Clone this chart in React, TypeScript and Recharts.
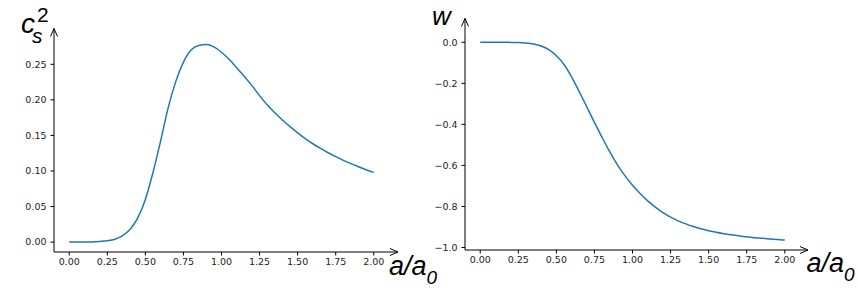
import { Line, LineChart, ReferenceLine, XAxis, YAxis } from "recharts";

// scale factor a/a0, sampled every 0.05
const aValues = [
  0, 0.05, 0.1, 0.15, 0.2, 0.25, 0.3, 0.35, 0.4, 0.45, 0.5, 0.55, 0.6, 0.65,
  0.7, 0.75, 0.8, 0.85, 0.9, 0.95, 1.0, 1.05, 1.1, 1.15, 1.2, 1.25, 1.3, 1.35,
  1.4, 1.45, 1.5, 1.55, 1.6, 1.65, 1.7, 1.75, 1.8, 1.85, 1.9, 1.95, 2.0,
];

// sound speed squared
const cs2Values = [
  0, 0, 0, 0.0003, 0.001, 0.002, 0.004, 0.009, 0.018, 0.034, 0.06, 0.098,
  0.142, 0.189, 0.226, 0.253, 0.27, 0.2765, 0.2778, 0.2745, 0.267, 0.257,
  0.245, 0.233, 0.22, 0.206, 0.193, 0.1819, 0.1717, 0.1623, 0.1536, 0.1456,
  0.1383, 0.1317, 0.1256, 0.1201, 0.115, 0.1103, 0.1059, 0.1018, 0.098,
];

// equation of state w
const wValues = [
  0, 0, 0, 0, -0.0005, -0.001, -0.003, -0.008, -0.018, -0.036, -0.066, -0.108,
  -0.168, -0.24, -0.315, -0.39, -0.463, -0.533, -0.596, -0.65, -0.697, -0.737,
  -0.773, -0.803, -0.83, -0.852, -0.87, -0.885, -0.898, -0.909, -0.918, -0.926,
  -0.933, -0.938, -0.943, -0.948, -0.952, -0.955, -0.958, -0.961, -0.964,
];

const aTicks = [0, 0.25, 0.5, 0.75, 1.0, 1.25, 1.5, 1.75, 2.0];
const cs2Ticks = [0, 0.05, 0.1, 0.15, 0.2, 0.25];
const wTicks = [-1.0, -0.8, -0.6, -0.4, -0.2, 0.0];

const cs2Data = aValues.map((a, i) => ({ a, v: cs2Values[i] }));
const wData = aValues.map((a, i) => ({ a, v: wValues[i] }));

const tickStyle = { fontFamily: "DejaVu Sans", fontSize: 9.5, fill: "#222" };
const bigFont = "Liberation Sans, Arial, sans-serif";
const minus = (s: string) => s.replace("-", "\u2212");

function arrowRight(ext: number) {
  return (p: any) => {
    const x = Math.max(p.x1, p.x2);
    const y = p.y1;
    const tip = x + ext;
    return (
      <path
        d={`M${x},${y}L${tip},${y}M${tip - 8},${y - 3.5}L${tip},${y}L${tip - 8},${y + 3.5}`}
        stroke="#000"
        strokeWidth={1}
        fill="none"
      />
    );
  };
}

function arrowUp(ext: number) {
  return (p: any) => {
    const x = p.x1;
    const y = Math.min(p.y1, p.y2);
    const tip = y - ext;
    return (
      <path
        d={`M${x},${y}L${x},${tip}M${x - 3.5},${tip + 8}L${x},${tip}L${x + 3.5},${tip + 8}`}
        stroke="#000"
        strokeWidth={1}
        fill="none"
      />
    );
  };
}

// a/a0 label sitting just right of the x axis end
function xLabel(dx: number, dy: number) {
  return (props: any) => {
    const vb = props.viewBox;
    const x = vb.x + vb.width + dx;
    const y = vb.y + dy;
    return (
      <text x={x} y={y} fontFamily={bigFont} fontStyle="italic" fontSize={27} fill="#000">
        a/a
        <tspan fontSize={19} dy={9}>0</tspan>
      </text>
    );
  };
}

function Cs2Label(props: any) {
  const vb = props.viewBox;
  const ax = vb.x + vb.width;
  const top = vb.y;
  return (
    <g fontFamily={bigFont} fontStyle="italic" fill="#000">
      <text x={ax - 33} y={top - 1.5} fontSize={28}>c</text>
      <text x={ax - 22} y={top + 8} fontSize={21}>s</text>
      <text x={ax - 17} y={top - 13} fontSize={21} fontStyle="normal">2</text>
    </g>
  );
}

function WLabel(props: any) {
  const vb = props.viewBox;
  const ax = vb.x + vb.width;
  return (
    <text x={ax - 33} y={vb.y - 7.5} fontFamily={bigFont} fontStyle="italic" fontSize={26} fill="#000">
      w
    </text>
  );
}

export default function App() {
  return (
    <div style={{ position: "absolute", left: 0, top: 0, width: 858, height: 288, background: "#fff" }}>
      <div style={{ position: "absolute", left: 0, top: 0 }}>
        <LineChart width={460} height={288} data={cs2Data} margin={{ top: 34.5, right: 71, bottom: 0, left: 0 }}>
          <XAxis
            dataKey="a"
            type="number"
            domain={[-0.1, 2.1]}
            ticks={aTicks}
            interval={0}
            tickFormatter={(v: number) => v.toFixed(2)}
            tick={tickStyle}
            tickSize={3.5}
            tickMargin={3}
            stroke="#000"
            height={36}
            label={xLabel(0, 23)}
          />
          <YAxis
            type="number"
            domain={[-0.0139, 0.2919]}
            ticks={cs2Ticks}
            interval={0}
            tickFormatter={(v: number) => v.toFixed(2)}
            tick={tickStyle}
            tickSize={3.5}
            tickMargin={4}
            stroke="#000"
            width={54}
            label={Cs2Label}
          />
          <ReferenceLine y={-0.0139} ifOverflow="visible" shape={arrowRight(9)} />
          <ReferenceLine x={-0.1} ifOverflow="visible" shape={arrowUp(6)} />
          <Line
            type="monotone"
            dataKey="v"
            stroke="#1f77b4"
            strokeWidth={1.5}
            dot={false}
            isAnimationActive={false}
          />
        </LineChart>
      </div>
      <div style={{ position: "absolute", left: 430, top: 0 }}>
        <LineChart width={428} height={288} data={wData} margin={{ top: 32.4, right: 58, bottom: 0, left: 0 }}>
          <XAxis
            dataKey="a"
            type="number"
            domain={[-0.1, 2.1]}
            ticks={aTicks}
            interval={0}
            tickFormatter={(v: number) => v.toFixed(2)}
            tick={tickStyle}
            tickSize={3.5}
            tickMargin={3}
            stroke="#000"
            height={38}
            label={xLabel(6.5, 22)}
          />
          <YAxis
            type="number"
            domain={[-1.0122, 0.0482]}
            ticks={wTicks}
            interval={0}
            tickFormatter={(v: number) => minus(v.toFixed(1))}
            tick={tickStyle}
            tickSize={3.5}
            tickMargin={4}
            stroke="#000"
            width={35}
            label={WLabel}
          />
          <ReferenceLine y={-1.0122} ifOverflow="visible" shape={arrowRight(8)} />
          <ReferenceLine x={-0.1} ifOverflow="visible" shape={arrowUp(14)} />
          <Line
            type="monotone"
            dataKey="v"
            stroke="#1f77b4"
            strokeWidth={1.5}
            dot={false}
            isAnimationActive={false}
          />
        </LineChart>
      </div>
    </div>
  );
}
